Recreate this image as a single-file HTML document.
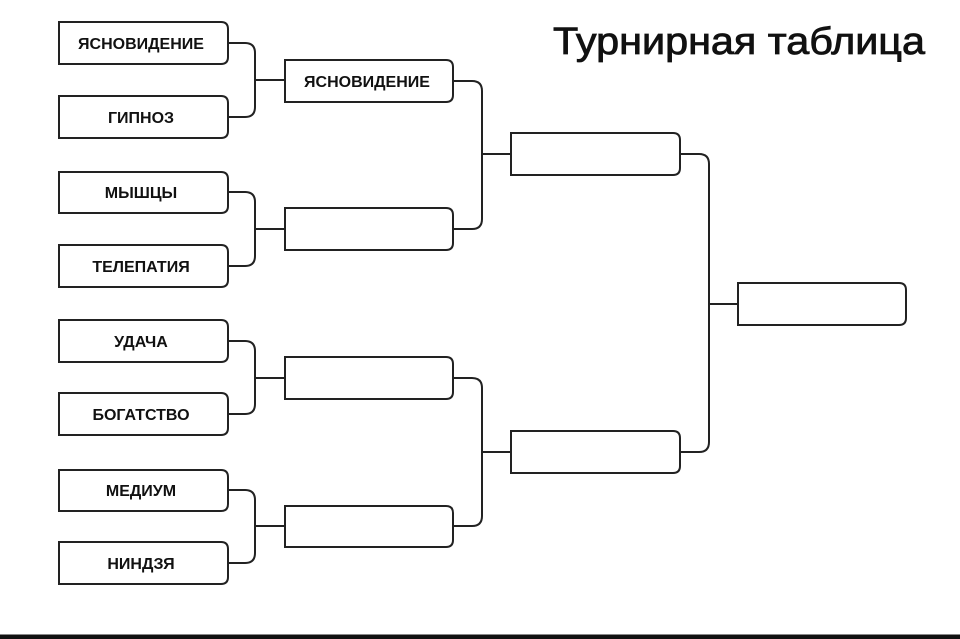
<!DOCTYPE html>
<html><head><meta charset="utf-8"><style>
html,body{margin:0;padding:0;background:#fff;width:960px;height:639px;overflow:hidden}
svg{display:block}
</style></head><body>
<svg width="960" height="639" viewBox="0 0 960 639" xmlns="http://www.w3.org/2000/svg">
<g fill="none" stroke="#222" stroke-width="2">
<path d="M59 22H221Q228 22 228 29V57Q228 64 221 64H59Z"/>
<path d="M59 96H221Q228 96 228 103V131Q228 138 221 138H59Z"/>
<path d="M59 172H221Q228 172 228 179V206Q228 213 221 213H59Z"/>
<path d="M59 245H221Q228 245 228 252V280Q228 287 221 287H59Z"/>
<path d="M59 320H221Q228 320 228 327V355Q228 362 221 362H59Z"/>
<path d="M59 393H221Q228 393 228 400V428Q228 435 221 435H59Z"/>
<path d="M59 470H221Q228 470 228 477V504Q228 511 221 511H59Z"/>
<path d="M59 542H221Q228 542 228 549V577Q228 584 221 584H59Z"/>
<path d="M285 60H446Q453 60 453 67V95Q453 102 446 102H285Z"/>
<path d="M285 208H446Q453 208 453 215V243Q453 250 446 250H285Z"/>
<path d="M285 357H446Q453 357 453 364V392Q453 399 446 399H285Z"/>
<path d="M285 506H446Q453 506 453 513V540Q453 547 446 547H285Z"/>
<path d="M511 133H673Q680 133 680 140V168Q680 175 673 175H511Z"/>
<path d="M511 431H673Q680 431 680 438V466Q680 473 673 473H511Z"/>
<path d="M738 283H899Q906 283 906 290V318Q906 325 899 325H738Z"/>
<path d="M228 43H245Q255 43 255 53V107Q255 117 245 117H228M255 80H285"/>
<path d="M228 192H245Q255 192 255 202V256Q255 266 245 266H228M255 229H285"/>
<path d="M228 341H245Q255 341 255 351V404Q255 414 245 414H228M255 378H285"/>
<path d="M228 490H245Q255 490 255 500V553Q255 563 245 563H228M255 526H285"/>
<path d="M453 81H472Q482 81 482 91V219Q482 229 472 229H453M482 154H511"/>
<path d="M453 378H472Q482 378 482 388V516Q482 526 472 526H453M482 452H511"/>
<path d="M680 154H699Q709 154 709 164V442Q709 452 699 452H680M709 304H738"/>
</g>
<g font-family="Liberation Sans, sans-serif" font-weight="bold" font-size="16" fill="#111" text-anchor="middle">
<text x="141" y="49">ЯСНОВИДЕНИЕ</text>
<text x="141" y="123">ГИПНОЗ</text>
<text x="141" y="198">МЫШЦЫ</text>
<text x="141" y="272">ТЕЛЕПАТИЯ</text>
<text x="141" y="347">УДАЧА</text>
<text x="141" y="420">БОГАТСТВО</text>
<text x="141" y="496">МЕДИУМ</text>
<text x="141" y="569">НИНДЗЯ</text>
<text x="367" y="87">ЯСНОВИДЕНИЕ</text>
</g>
<text x="739" y="54" font-family="Liberation Sans, sans-serif" font-size="38" fill="#111" stroke="#111" stroke-width="0.8" text-anchor="middle" textLength="372" lengthAdjust="spacingAndGlyphs">Турнирная таблица</text>
<rect x="0" y="634" width="960" height="1" fill="#888"/>
<rect x="0" y="635" width="960" height="4" fill="#111"/>
</svg>
</body></html>
